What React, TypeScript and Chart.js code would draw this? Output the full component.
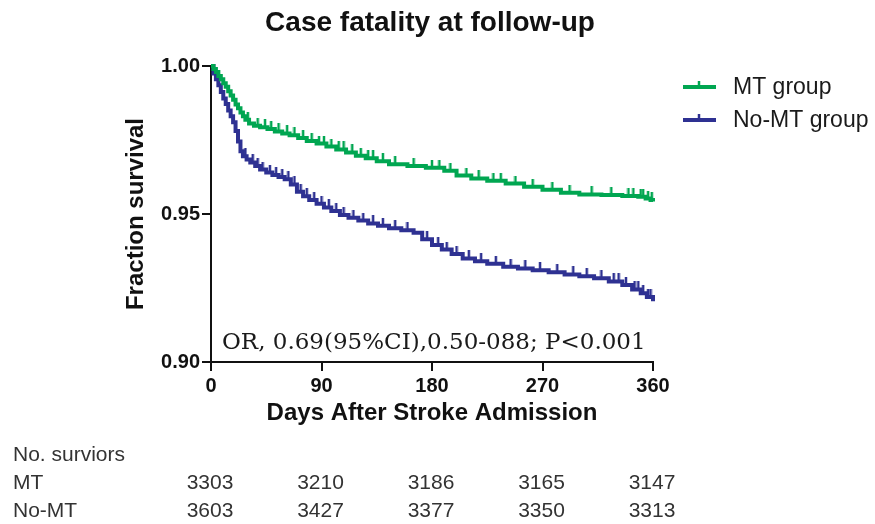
import React, { useEffect, useRef } from 'react';
import { Chart, registerables } from 'chart.js';

Chart.register(...registerables);

const GREEN = '#00a651';
const BLUE = '#2e3192';
const INK = '#111111';

const chartTitle = 'Case fatality at follow-up';
const xAxisTitle = 'Days After Stroke Admission';
const yAxisTitle = 'Fraction survival';
const annotation = 'OR, 0.69(95%CI),0.50-088; P<0.001';
const seriesNames = ['MT group', 'No-MT group'];

const xTickDays = [0, 90, 180, 270, 360];
const yTicks = [0.9, 0.95, 1.0];

const tableHeader = 'No. surviors';
const tableRowLabels = ['MT', 'No-MT'];
const mtAtRisk = [3303, 3210, 3186, 3165, 3147];
const noMtAtRisk = [3603, 3427, 3377, 3350, 3313];

const mtDays = [0, 2, 4, 6, 8, 10, 12, 14, 16, 18, 20, 22, 24, 26, 28, 31, 35, 40, 46, 52, 58, 64, 71, 78, 86, 94, 102, 110, 118, 126, 135, 145, 160, 175, 190, 200, 212, 225, 240, 255, 270, 285, 300, 318, 335, 348, 354, 358, 360];
const mtSurv = [1.0, 0.999, 0.998, 0.9966, 0.9955, 0.9942, 0.993, 0.9915, 0.99, 0.9886, 0.987, 0.9857, 0.9843, 0.983, 0.9818, 0.9806, 0.9798, 0.9793, 0.9787, 0.9779, 0.9772, 0.9766, 0.9757, 0.9747, 0.9738, 0.9728, 0.9718, 0.9708, 0.9697, 0.9688, 0.9678, 0.9668, 0.9662, 0.9656, 0.9646, 0.963, 0.962, 0.9612, 0.9603, 0.9592, 0.9582, 0.9572, 0.9566, 0.9564, 0.9561, 0.9558, 0.9552, 0.9547, 0.9542];

const noMtDays = [0, 2, 4, 6, 8, 10, 12, 14, 16, 18, 20, 22, 24, 26, 29, 32, 36, 40, 45, 50, 55, 60, 65, 70, 75, 80, 86, 92, 98, 105, 112, 120, 128, 136, 145, 155, 165, 172, 180, 188, 196, 205, 215, 225, 238, 250, 262, 275, 288, 300, 312, 324, 335, 343, 350, 355, 360];
const noMtSurv = [1.0, 0.9975, 0.9955, 0.9935, 0.9912, 0.989, 0.9872, 0.985, 0.983, 0.981, 0.978, 0.9745, 0.9712, 0.9695, 0.9684, 0.9674, 0.9662, 0.965, 0.964, 0.9632, 0.9625, 0.9617, 0.96, 0.9575, 0.956, 0.9547, 0.9535, 0.9522, 0.951, 0.9497, 0.9487, 0.9478, 0.9468, 0.946, 0.9452, 0.9445, 0.9437, 0.9415, 0.9395, 0.938, 0.9365, 0.935, 0.934, 0.9332, 0.9322, 0.9316, 0.931, 0.9303, 0.9296, 0.929, 0.9283, 0.9272, 0.926, 0.9245, 0.9232, 0.922, 0.9205];

const mtCensorDays = [30, 38, 44, 49, 55, 62, 68, 75, 82, 88, 92, 98, 104, 108, 115, 122, 128, 132, 140, 150, 165, 180, 186, 195, 208, 218, 230, 236, 248, 262, 278, 292, 310, 326, 340, 344, 350, 352, 356, 359];
const noMtCensorDays = [28, 34, 38, 42, 48, 53, 58, 63, 68, 73, 78, 84, 90, 96, 102, 108, 116, 124, 132, 140, 150, 160, 176, 185, 192, 200, 210, 220, 232, 244, 256, 268, 282, 295, 306, 318, 328, 332, 338, 345, 348, 352, 356, 358];

function stepAt(days: number[], surv: number[], t: number): number {
  let v = surv[0];
  for (let i = 0; i < days.length; i++) {
    if (days[i] <= t) v = surv[i];
  }
  return v;
}

function makeTick(color: string): HTMLCanvasElement {
  const c = document.createElement('canvas');
  c.width = 4;
  c.height = 16;
  const g = c.getContext('2d')!;
  g.strokeStyle = color;
  g.lineWidth = 2.5;
  g.beginPath();
  g.moveTo(2, 0);
  g.lineTo(2, 8);
  g.stroke();
  return c;
}

const SANS = '"Liberation Sans", Arial, sans-serif';

export default function App() {
  const ref = useRef<HTMLCanvasElement | null>(null);

  useEffect(() => {
    if (!ref.current) return;
    const greenTick = makeTick(GREEN);
    const blueTick = makeTick(BLUE);

    const overlay = {
      id: 'overlay',
      afterDraw(chart: any) {
        const ctx = chart.ctx as CanvasRenderingContext2D;
        const xs = chart.scales.x;
        ctx.save();
        // title
        ctx.fillStyle = INK;
        ctx.font = `bold 28px ${SANS}`;
        ctx.textAlign = 'center';
        ctx.textBaseline = 'middle';
        ctx.fillText(chartTitle, 430, 23);

        // legend
        const legendY = [87, 120];
        const legendColors = [GREEN, BLUE];
        ctx.textAlign = 'left';
        ctx.font = `23px ${SANS}`;
        for (let i = 0; i < 2; i++) {
          const y = legendY[i];
          ctx.strokeStyle = legendColors[i];
          ctx.lineWidth = 4;
          ctx.beginPath();
          ctx.moveTo(683, y);
          ctx.lineTo(716, y);
          ctx.stroke();
          ctx.lineWidth = 2.5;
          ctx.beginPath();
          ctx.moveTo(699, y - 6);
          ctx.lineTo(699, y);
          ctx.stroke();
          ctx.fillStyle = '#1a1a1a';
          ctx.fillText(seriesNames[i], 733, y + 1);
        }

        // annotation
        ctx.fillStyle = '#1a1a1a';
        ctx.font = `23px "DejaVu Serif", "Liberation Serif", serif`;
        ctx.textAlign = 'left';
        ctx.fillText(annotation, 222, 343, 428);

        // at-risk table
        ctx.fillStyle = '#333333';
        ctx.font = `21px ${SANS}`;
        ctx.textAlign = 'left';
        ctx.fillText(tableHeader, 13, 455);
        ctx.fillText(tableRowLabels[0], 13, 483);
        ctx.fillText(tableRowLabels[1], 13, 511);
        ctx.textAlign = 'center';
        for (let i = 0; i < xTickDays.length; i++) {
          const px = xs.getPixelForValue(xTickDays[i]);
          ctx.fillText(String(mtAtRisk[i]), px - 1, 483);
          ctx.fillText(String(noMtAtRisk[i]), px - 1, 511);
        }
        ctx.restore();
      },
    };

    const chart = new Chart(ref.current, {
      type: 'line',
      data: {
        datasets: [
          {
            label: seriesNames[0],
            data: mtDays.map((d, i) => ({ x: d, y: mtSurv[i] })),
            borderColor: GREEN,
            borderWidth: 4,
            stepped: true,
            pointRadius: 0,
            fill: false,
            clip: 10,
          },
          {
            label: seriesNames[1],
            data: noMtDays.map((d, i) => ({ x: d, y: noMtSurv[i] })),
            borderColor: BLUE,
            borderWidth: 4,
            stepped: true,
            pointRadius: 0,
            fill: false,
            clip: 10,
          },
          {
            label: 'MT censored',
            data: mtCensorDays.map((d) => ({ x: d, y: stepAt(mtDays, mtSurv, d) })),
            showLine: false,
            pointStyle: greenTick as any,
            pointRadius: 5,
            clip: 10,
          },
          {
            label: 'No-MT censored',
            data: noMtCensorDays.map((d) => ({ x: d, y: stepAt(noMtDays, noMtSurv, d) })),
            showLine: false,
            pointStyle: blueTick as any,
            pointRadius: 5,
            clip: 10,
          },
        ] as any,
      },
      options: {
        animation: false,
        responsive: false,
        layout: { padding: { left: 122, top: 66, right: 222, bottom: 96 } },
        plugins: {
          legend: { display: false },
          tooltip: { enabled: false },
        },
        scales: {
          x: {
            type: 'linear',
            min: 0,
            max: 360,
            afterBuildTicks: (s: any) => {
              s.ticks = xTickDays.map((v) => ({ value: v }));
            },
            ticks: {
              font: { family: SANS, size: 20, weight: 'bold' },
              color: INK,
              padding: 3,
              maxRotation: 0,
            },
            grid: { drawOnChartArea: false, tickLength: 9, lineWidth: 2, color: INK },
            border: { display: true, color: INK, width: 2 },
            title: {
              display: true,
              text: xAxisTitle,
              font: { family: SANS, size: 24, weight: 'bold' },
              color: INK,
              padding: 0,
            },
            afterFit: (s: any) => {
              s.height = 66;
            },
          },
          y: {
            type: 'linear',
            min: 0.9,
            max: 1.0,
            afterBuildTicks: (s: any) => {
              s.ticks = yTicks.map((v) => ({ value: v }));
            },
            ticks: {
              font: { family: SANS, size: 20, weight: 'bold' },
              color: INK,
              padding: 2,
              callback: (v: any) => Number(v).toFixed(2),
            },
            grid: { drawOnChartArea: false, tickLength: 9, lineWidth: 2, color: INK },
            border: { display: true, color: INK, width: 2 },
            title: {
              display: true,
              text: yAxisTitle,
              font: { family: SANS, size: 24, weight: 'bold' },
              color: INK,
              padding: 0,
            },
            afterFit: (s: any) => {
              s.width = 89;
            },
          },
        },
      } as any,
      plugins: [overlay],
    });

    return () => chart.destroy();
  }, []);

  return (
    <div style={{ position: 'absolute', left: 0, top: 0, width: 875, height: 524, background: '#fff' }}>
      <canvas ref={ref} width={875} height={524} style={{ display: 'block' }} />
    </div>
  );
}
